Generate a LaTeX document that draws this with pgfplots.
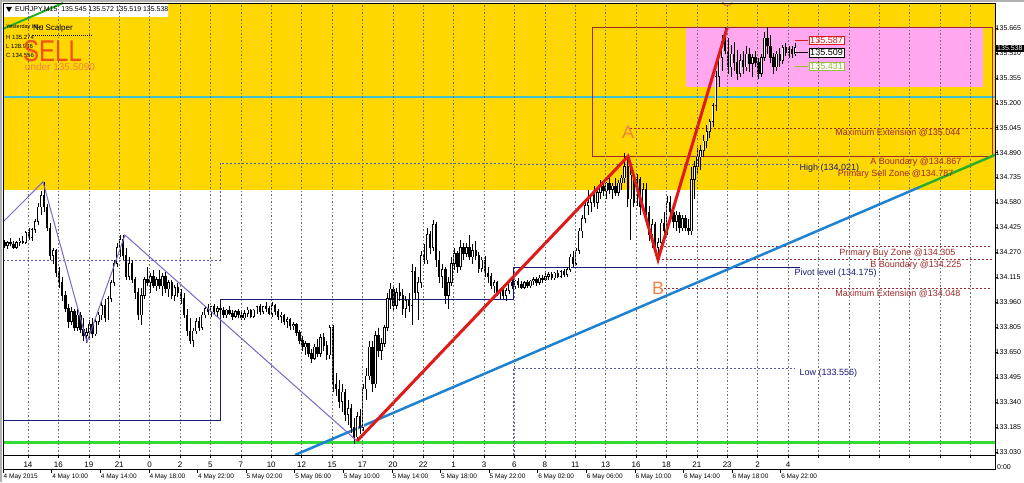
\documentclass[border=0pt]{standalone}
\usepackage{fontspec}
\setmainfont{Liberation Sans}
\usepackage{pgfplots}
\usepackage{pgfplotstable}
\pgfplotsset{compat=1.18}

\definecolor{mtgold}{RGB}{255,215,0}
\definecolor{mtpink}{RGB}{255,168,240}
\definecolor{mtbrown}{RGB}{160,40,40}
\definecolor{mtcyan}{RGB}{64,190,210}
\definecolor{mtlime}{RGB}{50,220,50}
\definecolor{mtblue}{RGB}{30,130,210}
\definecolor{mtred}{RGB}{225,25,25}
\definecolor{mtpurple}{RGB}{128,100,200}
\definecolor{mtnavy}{RGB}{25,25,120}
\definecolor{mtslate}{RGB}{90,90,180}
\definecolor{mtorange}{RGB}{240,130,70}
\definecolor{mtsell}{RGB}{240,80,20}
\definecolor{mtgrid}{RGB}{110,110,110}
\definecolor{mtgreen}{RGB}{150,190,60}

% EURJPY M15 bars, 4 May 06:00 onward (i = bar number)
\pgfplotstableread{
i o h l c
0 134.33 134.35 134.30 134.31
1 134.31 134.34 134.29 134.33
2 134.33 134.36 134.31 134.32
3 134.32 134.34 134.29 134.30
4 134.30 134.34 134.29 134.33
5 134.33 134.36 134.31 134.34
6 134.34 134.37 134.32 134.33
7 134.33 134.40 134.32 134.39
8 134.39 134.42 134.35 134.36
9 134.36 134.42 134.34 134.41
10 134.41 134.48 134.39 134.46
11 134.46 134.58 134.44 134.55
12 134.55 134.65 134.50 134.62
13 134.62 134.71 134.52 134.55
14 134.55 134.57 134.40 134.42
15 134.42 134.45 134.22 134.25
16 134.25 134.30 134.20 134.28
17 134.28 134.29 134.12 134.14
18 134.14 134.18 134.05 134.08
19 134.08 134.12 133.97 134.00
20 134.00 134.03 133.90 133.92
21 133.92 133.95 133.80 133.84
22 133.84 133.93 133.82 133.90
23 133.90 133.92 133.78 133.80
24 133.80 133.92 133.78 133.88
25 133.88 133.90 133.77 133.79
26 133.79 133.86 133.72 133.75
27 133.75 133.80 133.71 133.77
28 133.77 133.85 133.74 133.82
29 133.82 133.86 133.74 133.76
30 133.76 133.86 133.75 133.84
31 133.84 133.90 133.82 133.88
32 133.88 133.96 133.85 133.94
33 133.94 133.98 133.84 133.86
34 133.86 134.00 133.85 133.98
35 133.98 134.10 133.96 134.08
36 134.08 134.22 134.06 134.20
37 134.20 134.33 134.18 134.30
38 134.30 134.38 134.24 134.35
39 134.35 134.38 134.22 134.25
40 134.25 134.30 134.10 134.12
41 134.12 134.24 134.10 134.20
42 134.20 134.22 134.08 134.10
43 134.10 134.12 133.98 134.02
44 134.02 134.05 133.85 133.88
45 133.88 134.05 133.82 134.00
46 134.00 134.12 133.98 134.10
47 134.10 134.18 134.06 134.08
48 134.08 134.14 134.02 134.12
49 134.12 134.16 134.05 134.06
50 134.06 134.12 134.03 134.10
51 134.10 134.16 134.04 134.06
52 134.06 134.14 134.00 134.12
53 134.12 134.15 134.02 134.04
54 134.04 134.10 133.99 134.08
55 134.08 134.10 133.98 134.00
56 134.00 134.07 133.97 134.05
57 134.05 134.08 133.99 134.02
58 134.02 134.04 133.95 133.98
59 133.98 134.02 133.86 133.88
60 133.88 133.92 133.75 133.78
61 133.78 133.86 133.70 133.72
62 133.72 133.80 133.68 133.78
63 133.78 133.86 133.76 133.84
64 133.84 133.87 133.78 133.80
65 133.80 133.90 133.79 133.88
66 133.88 133.94 133.86 133.92
67 133.92 133.95 133.88 133.90
68 133.90 133.94 133.87 133.93
69 133.93 133.95 133.88 133.90
70 133.90 133.94 133.87 133.92
71 133.92 133.95 133.89 133.91
72 133.91 133.93 133.86 133.88
73 133.88 133.92 133.86 133.91
74 133.91 133.94 133.88 133.89
75 133.89 133.91 133.85 133.87
76 133.87 133.91 133.86 133.90
77 133.90 133.92 133.86 133.88
78 133.88 133.90 133.85 133.86
79 133.86 133.91 133.85 133.89
80 133.89 133.93 133.87 133.91
81 133.91 133.92 133.86 133.87
82 133.87 133.92 133.86 133.91
83 133.91 133.94 133.89 133.93
84 133.93 133.95 133.88 133.90
85 133.90 133.94 133.89 133.93
86 133.93 133.96 133.90 133.92
87 133.92 133.94 133.88 133.89
88 133.89 133.96 133.87 133.94
89 133.94 133.95 133.88 133.90
90 133.90 133.92 133.85 133.87
91 133.87 133.90 133.83 133.88
92 133.88 133.89 133.82 133.84
93 133.84 133.87 133.80 133.85
94 133.85 133.86 133.79 133.81
95 133.81 133.84 133.79 133.82
96 133.82 133.83 133.75 133.77
97 133.77 133.79 133.70 133.72
98 133.72 133.75 133.66 133.68
99 133.68 133.72 133.63 133.70
100 133.70 133.71 133.62 133.64
101 133.64 133.67 133.58 133.61
102 133.61 133.70 133.60 133.68
103 133.68 133.73 133.62 133.64
104 133.64 133.76 133.62 133.74
105 133.74 133.77 133.66 133.69
106 133.69 133.72 133.60 133.63
107 133.63 133.82 133.61 133.80
108 133.80 133.82 133.40 133.45
109 133.45 133.52 133.38 133.42
110 133.42 133.48 133.30 133.34
111 133.34 133.45 133.28 133.40
112 133.40 133.42 133.22 133.26
113 133.26 133.35 133.20 133.30
114 133.30 133.33 133.15 133.18
115 133.18 133.24 133.08 133.12
116 133.12 133.28 133.10 133.25
117 133.25 133.30 133.14 133.18
118 133.18 133.45 133.16 133.42
119 133.42 133.55 133.35 133.50
120 133.50 133.72 133.48 133.68
121 133.68 133.72 133.40 133.45
122 133.45 133.78 133.43 133.75
123 133.75 133.80 133.62 133.66
124 133.66 133.74 133.60 133.70
125 133.70 133.82 133.68 133.80
126 133.80 134.02 133.78 133.98
127 133.98 134.08 133.92 134.04
128 134.04 134.06 133.90 133.94
129 133.94 134.05 133.92 134.02
130 134.02 134.08 133.97 134.00
131 134.00 134.04 133.88 133.92
132 133.92 134.00 133.86 133.97
133 133.97 134.02 133.90 133.94
134 133.94 134.20 133.82 134.15
135 134.15 134.18 133.98 134.02
136 134.02 134.12 133.85 134.08
137 134.08 134.28 134.05 134.25
138 134.25 134.32 134.20 134.22
139 134.22 134.42 134.20 134.38
140 134.38 134.40 134.26 134.30
141 134.30 134.47 134.28 134.44
142 134.44 134.46 134.18 134.22
143 134.22 134.28 134.08 134.12
144 134.12 134.20 134.05 134.16
145 134.16 134.18 133.95 134.00
146 134.00 134.12 133.92 134.08
147 134.08 134.24 134.06 134.20
148 134.20 134.30 134.16 134.26
149 134.26 134.28 134.14 134.18
150 134.18 134.35 134.16 134.30
151 134.30 134.33 134.22 134.26
152 134.26 134.33 134.24 134.30
153 134.30 134.38 134.22 134.24
154 134.24 134.32 134.20 134.28
155 134.28 134.34 134.22 134.25
156 134.25 134.27 134.14 134.17
157 134.17 134.24 134.15 134.22
158 134.22 134.25 134.12 134.14
159 134.14 134.18 134.08 134.12
160 134.12 134.14 134.04 134.06
161 134.06 134.10 134.02 134.08
162 134.08 134.09 134.00 134.02
163 134.02 134.05 133.98 134.04
164 134.04 134.06 133.98 134.00
165 134.00 134.05 133.97 134.03
166 134.03 134.10 134.01 134.08
167 134.08 134.11 134.04 134.06
168 134.06 134.10 134.04 134.09
169 134.09 134.11 134.05 134.07
170 134.07 134.09 134.04 134.05
171 134.05 134.09 134.04 134.08
172 134.08 134.10 134.05 134.06
173 134.06 134.10 134.05 134.09
174 134.09 134.12 134.07 134.10
175 134.10 134.12 134.06 134.08
176 134.08 134.13 134.07 134.11
177 134.11 134.13 134.08 134.10
178 134.10 134.14 134.09 134.12
179 134.12 134.15 134.10 134.13
180 134.13 134.15 134.10 134.11
181 134.11 134.15 134.10 134.14
182 134.14 134.16 134.11 134.12
183 134.12 134.16 134.11 134.15
184 134.15 134.17 134.12 134.13
185 134.13 134.18 134.12 134.16
186 134.16 134.26 134.15 134.24
187 134.24 134.28 134.18 134.20
188 134.20 134.30 134.19 134.28
189 134.28 134.42 134.26 134.40
190 134.40 134.50 134.36 134.48
191 134.48 134.60 134.45 134.56
192 134.56 134.66 134.50 134.58
193 134.58 134.64 134.52 134.62
194 134.62 134.68 134.55 134.58
195 134.58 134.66 134.54 134.64
196 134.64 134.72 134.60 134.68
197 134.68 134.72 134.62 134.65
198 134.65 134.71 134.60 134.70
199 134.70 134.74 134.63 134.66
200 134.66 134.70 134.60 134.68
201 134.68 134.73 134.62 134.64
202 134.64 134.72 134.62 134.70
203 134.70 134.75 134.66 134.73
204 134.73 134.89 134.70 134.80
205 134.80 134.86 134.55 134.60
206 134.60 134.84 134.35 134.75
207 134.75 134.78 134.55 134.58
208 134.58 134.76 134.56 134.72
209 134.72 134.74 134.50 134.55
210 134.55 134.70 134.53 134.66
211 134.66 134.70 134.48 134.52
212 134.52 134.56 134.34 134.38
213 134.38 134.48 134.30 134.44
214 134.44 134.46 134.26 134.30
215 134.30 134.36 134.22 134.33
216 134.33 134.48 134.30 134.45
217 134.45 134.52 134.36 134.40
218 134.40 134.62 134.38 134.58
219 134.58 134.62 134.48 134.52
220 134.52 134.55 134.42 134.46
221 134.46 134.53 134.40 134.50
222 134.50 134.52 134.39 134.42
223 134.42 134.50 134.40 134.48
224 134.48 134.50 134.40 134.42
225 134.42 134.48 134.38 134.40
226 134.40 134.80 134.38 134.72
227 134.72 134.84 134.60 134.80
228 134.80 134.92 134.76 134.86
229 134.86 134.94 134.78 134.90
230 134.90 135.00 134.86 134.96
231 134.96 135.06 134.92 135.02
232 135.02 135.10 134.98 135.08
233 135.08 135.20 135.05 135.18
234 135.18 135.40 135.15 135.36
235 135.36 135.52 135.30 135.48
236 135.48 135.62 135.40 135.58
237 135.58 135.67 135.50 135.52
238 135.52 135.60 135.38 135.42
239 135.42 135.56 135.36 135.50
240 135.50 135.58 135.40 135.45
241 135.45 135.53 135.34 135.38
242 135.38 135.50 135.36 135.46
243 135.46 135.52 135.38 135.42
244 135.42 135.55 135.40 135.50
245 135.50 135.54 135.39 135.44
246 135.44 135.50 135.36 135.48
247 135.48 135.52 135.42 135.45
248 135.45 135.48 135.35 135.38
249 135.38 135.50 135.36 135.48
250 135.48 135.64 135.46 135.60
251 135.60 135.67 135.50 135.55
252 135.55 135.62 135.45 135.48
253 135.48 135.51 135.38 135.42
254 135.42 135.52 135.40 135.50
255 135.50 135.54 135.42 135.46
256 135.46 135.56 135.44 135.54
257 135.54 135.57 135.49 135.51
258 135.51 135.55 135.48 135.53
259 135.53 135.55 135.48 135.50
260 135.50 135.57 135.49 135.54
}\bars

\begin{document}
\begin{tikzpicture}
\useasboundingbox (0,0) rectangle (1024pt,482pt);
\fill[white] (0,0) rectangle (1024pt,482pt);

\begin{axis}[
    at={(3pt,27pt)}, anchor=south west,
    width=992pt, height=452pt, scale only axis,
    xmin=3, xmax=995, ymin=133.011, ymax=135.820,
    clip=false, axis on top,
    axis line style={black, line width=0.8pt},
    xmajorgrids, grid style={mtgrid, line width=0.6pt, dash pattern=on 1.5pt off 2pt},
    xtick={28,58.4,88.8,119.2,149.6,180,210.4,240.8,271.2,301.6,332,362.4,392.8,423.2,453.6,484,514.4,544.8,575.2,605.6,636,666.4,696.8,727.2,757.6,788,818.4,848.8,879.2,909.6,940,970.4},
    xticklabels={14,16,19,21,0,2,5,7,10,12,15,17,20,22,1,3,6,8,11,13,16,18,21,23,2,4},
    xtick pos=bottom, ytick pos=right, tick align=outside,
    major tick length=3pt, tick style={black, line width=0.5pt, solid},
    xticklabel style={font=\fontsize{8}{9}\selectfont, anchor=center, yshift=-7pt},
    ytick={133.030,133.185,133.340,133.495,133.650,133.805,133.960,134.115,134.270,134.425,134.580,134.735,134.890,135.045,135.200,135.355,135.510,135.665},
    yticklabel style={font=\fontsize{7}{8}\selectfont, anchor=west, inner sep=0.5pt, xshift=-3pt, /pgf/number format/.cd, fixed, fixed zerofill, precision=3, 1000 sep={}, assume math mode=true},
]
% background zones
\addplot[fill=mtgold, draw=none] coordinates {(3,134.658) (995,134.658) (995,135.82) (3,135.82) (3,134.658)};
\addplot[fill=mtpink, draw=none] coordinates {(686,135.298) (983,135.298) (983,135.671) (686,135.671) (686,135.298)};
\addplot[fill=white, draw=none] coordinates {(3,135.733) (168,135.733) (168,135.82) (3,135.82) (3,135.733)};

% horizontal levels
\addplot[mtcyan, line width=2pt] coordinates {(3,135.236) (995,135.236)};
\addplot[mtlime, line width=3pt] coordinates {(3,133.086) (995,133.086)};
\addplot[mtbrown, line width=0.8pt] coordinates {(592,135.671) (992,135.671) (992,134.867) (592,134.867) (592,135.671)};
\addplot[mtbrown, line width=0.7pt, dash pattern=on 2pt off 2pt] coordinates {(630,135.044) (992,135.044)};
\addplot[mtbrown, line width=0.7pt, dash pattern=on 2pt off 2pt] coordinates {(628,134.867) (992,134.867)};
\addplot[mtbrown, line width=0.7pt, dash pattern=on 2pt off 2pt] coordinates {(660,134.305) (992,134.305)};
\addplot[mtbrown, line width=0.7pt, dash pattern=on 2pt off 2pt] coordinates {(658,134.225) (992,134.225)};
\addplot[mtbrown, line width=0.7pt, dash pattern=on 2pt off 2pt] coordinates {(660,134.048) (992,134.048)};

% yesterday high / low / pivot
\addplot[mtslate, line width=0.8pt, dash pattern=on 2pt off 2pt] coordinates {(3,134.223) (220,134.223) (220,134.826) (513,134.826) (513,134.814) (800,134.814)};
\addplot[mtslate, line width=0.8pt, dash pattern=on 2pt off 2pt] coordinates {(513,133.011) (513,133.552) (795,133.552)};
\addplot[mtnavy, line width=0.9pt] coordinates {(3,133.223) (220,133.223) (220,133.975) (513,133.975) (513,134.175) (800,134.175)};

% trend lines
\addplot[mtblue, line width=2.5pt] coordinates {(295,133.011) (920,134.677)};
\addplot[mtlime!80!black, line width=2.5pt] coordinates {(920,134.677) (995,134.876)};
\addplot[mtlime!80!black, line width=2pt] coordinates {(3,135.659) (63,135.820)};

% candles
\addplot[draw=none, mark=none, forget plot, error bars/.cd, y dir=plus, y explicit, error mark=none,
  error bar style={draw=black, line width=0.6pt, solid}]
  table[x expr={4.5+3.04*\thisrow{i}}, y=l, y error plus expr={\thisrow{h}-\thisrow{l}}] {\bars};
\addplot[draw=none, mark=none, forget plot, error bars/.cd, y dir=plus, y explicit, error mark=none,
  error bar style={draw=black, line width=2.4pt, solid}]
  table[x expr={4.5+3.04*\thisrow{i}}, y expr={min(\thisrow{o},\thisrow{c})}, y error plus expr={abs(\thisrow{c}-\thisrow{o})+0.004}] {\bars};
\addplot[draw=none, mark=none, forget plot, unbounded coords=discard,
  y filter/.expression={\thisrow{c}>\thisrow{o} ? y : nan},
  error bars/.cd, y dir=plus, y explicit, error mark=none,
  error bar style={draw=white, line width=0.8pt, solid}]
  table[x expr={4.5+3.04*\thisrow{i}}, y expr={\thisrow{o}+0.004}, y error plus expr={\thisrow{c}-\thisrow{o}-0.004}] {\bars};

% zigzags
\addplot[mtpurple, line width=1pt] coordinates {(3,134.459) (43,134.708) (87,133.713) (125,134.378) (357,133.098)};
\addplot[mtred, line width=3pt] coordinates {(357,133.098) (628,134.867) (658,134.225) (727,135.665)};

% price markers
\addplot[mtred, line width=0.8pt] coordinates {(795,135.590) (808,135.590)};
\addplot[black, line width=0.8pt] coordinates {(795,135.510) (808,135.510)};
\addplot[mtgreen, line width=0.8pt] coordinates {(795,135.429) (808,135.429)};

% labels
\begin{scope}[font=\fontsize{9}{10}\selectfont]
\node[anchor=east, text=mtbrown] at (axis cs:964,135.012) {Maximum Extension @135.044};
\node[anchor=east, text=mtbrown] at (axis cs:965,134.832) {A Boundary @134.867};
\node[anchor=east, text=mtbrown] at (axis cs:957,134.758) {Primary Sell Zone @134.787};
\node[anchor=west, text=mtnavy] at (axis cs:796,134.795) {High (134.021)};
\node[anchor=east, text=mtbrown] at (axis cs:959,134.267) {Primary Buy Zone @134.305};
\node[anchor=east, text=mtbrown] at (axis cs:965,134.192) {B Boundary @134.225};
\node[anchor=west, text=mtnavy] at (axis cs:791,134.142) {Pivot level (134.175)};
\node[anchor=east, text=mtbrown] at (axis cs:964,134.012) {Maximum Extension @134.048};
\node[anchor=west, text=mtnavy] at (axis cs:796,133.521) {Low (133.556)};
\node[draw=mtred, fill=white, text=mtred, inner sep=1pt] at (axis cs:826.5,135.590) {135.587};
\node[draw=black, fill=white, text=black, inner sep=1pt] at (axis cs:826.5,135.510) {135.509};
\node[draw=mtgreen, fill=white, text=mtgreen, inner sep=1pt] at (axis cs:826.5,135.429) {135.431};
\node[fill=black, text=white, anchor=west, inner sep=1pt, font=\fontsize{7}{8}\selectfont] at (axis cs:996,135.538) {135.538};
\end{scope}
\node[text=mtorange, font=\fontsize{18}{18}\selectfont] at (axis cs:628,135.019) {A};
\node[text=mtorange, font=\fontsize{18}{18}\selectfont] at (axis cs:658,134.049) {B};
\node[text=mtorange, font=\fontsize{18}{18}\selectfont] at (axis cs:727,135.839) {C};
\end{axis}

% frame
\fill[gray!60] (0,0) rectangle (2pt,482pt);
\fill[gray!60] (0,480pt) rectangle (1024pt,482pt);
\draw[black, line width=0.8pt] (3pt,13pt) rectangle (995pt,27pt);
\node[anchor=west, inner sep=0pt, font=\fontsize{7}{8}\selectfont] at (997pt,15pt) {0:00};

% date scale
\foreach \x/\t in {3/4 May 2015, 51.6/4 May 10:00, 100.2/4 May 14:00, 148.8/4 May 18:00, 197.4/4 May 22:00, 246/5 May 02:00, 294.6/5 May 06:00, 343.2/5 May 10:00, 391.8/5 May 14:00, 440.4/5 May 18:00, 489/5 May 22:00, 537.6/6 May 02:00, 586.2/6 May 06:00, 634.8/6 May 10:00, 683.4/6 May 14:00, 732/6 May 18:00, 780.6/6 May 22:00}
{
  \draw[black, line width=0.5pt] (\x pt,13pt) -- (\x pt,9pt);
  \node[anchor=west, inner sep=0.5pt, font=\fontsize{6.5}{7}\selectfont] at (\x pt,5.5pt) {\t};
}

% header and indicator texts
\fill[black] (6pt,475pt) -- (12pt,475pt) -- (9pt,470pt) -- cycle;
\node[anchor=west, inner sep=0pt, font=\fontsize{7}{8}\selectfont] at (15pt,472pt) {EURJPY,M15\ \ 135.545 135.572 135.519 135.538};
\node[anchor=west, inner sep=0pt, font=\fontsize{5.5}{6}\selectfont] at (6pt,455pt) {Yesterday HiLo};
\node[anchor=west, inner sep=0pt, font=\fontsize{8}{9}\selectfont] at (33pt,454pt) {Nu Scalper};
\draw[black, line width=0.6pt, dash pattern=on 1pt off 1pt] (33pt,447pt) -- (92pt,447pt);
\node[anchor=west, inner sep=0pt, font=\fontsize{6}{7}\selectfont] at (6pt,445pt) {H 135.274};
\node[anchor=west, inner sep=0pt, font=\fontsize{6}{7}\selectfont] at (6pt,436pt) {L 128.936};
\node[anchor=west, inner sep=0pt, font=\fontsize{6}{7}\selectfont] at (6pt,427pt) {C 134.556};
\node[text=mtsell, inner sep=0pt, xscale=0.8, font=\fontsize{30}{30}\selectfont] at (52.5pt,430.5pt) {SELL};
\node[text=mtorange, inner sep=0pt, font=\fontsize{10}{10}\selectfont] at (60pt,415pt) {under 135.5090};
\end{tikzpicture}
\end{document}
